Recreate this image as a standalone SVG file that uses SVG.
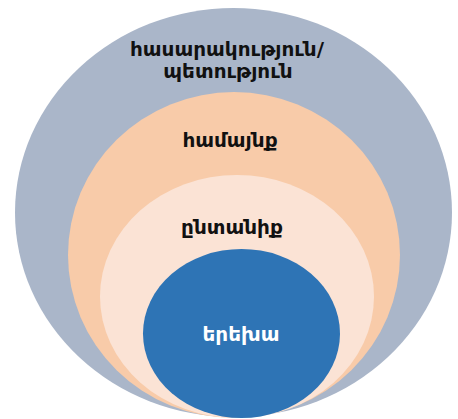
<svg xmlns="http://www.w3.org/2000/svg" width="458" height="419" viewBox="0 0 458 419">
<style>
text{font-family:"DejaVu Sans","Noto Sans",sans-serif;font-weight:bold;text-anchor:middle;font-size:20px}
.dk{fill:#111111}
.wh{fill:#ffffff}
</style>
<rect width="458" height="419" fill="#ffffff"/>
<g id="society"><ellipse cx="233.5" cy="212.5" rx="218.5" ry="204.5" fill="#aab6c9"/>
<text class="dk" x="227" y="56">հասարակություն/</text>
<text class="dk" x="228" y="78">պետություն</text></g>
<g id="community"><ellipse cx="234" cy="255" rx="166" ry="163" fill="#f8cba9"/>
<text class="dk" x="230" y="147">համայնք</text></g>
<g id="family"><ellipse cx="237" cy="296.5" rx="137" ry="121.5" fill="#fbe3d5"/>
<text class="dk" x="232" y="234">ընտանիք</text></g>
<g id="child"><ellipse cx="241.5" cy="333.5" rx="98.5" ry="84.5" fill="#2e74b5"/>
<text class="wh" x="241" y="341">երեխա</text></g>
<g id="connectors"></g>
</svg>
